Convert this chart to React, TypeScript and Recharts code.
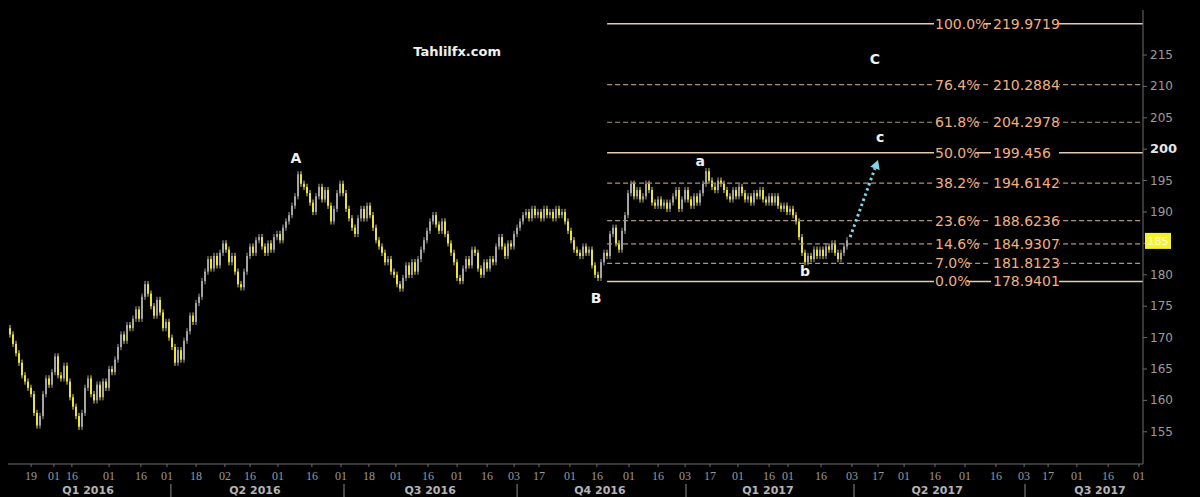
import React from "react";
import {
  ComposedChart,
  Bar,
  Line,
  XAxis,
  YAxis,
  ReferenceLine,
  ReferenceDot
} from "recharts";

// daily closes (one candle per trading day)
const closes: number[] = [
  170.5, 169, 167.5, 166, 164, 163, 162, 161, 158, 156,
  157.5, 161, 163.5, 162.5, 164.5, 167, 164, 163.5, 165.5, 163,
  160.5, 159, 157.5, 155.8, 158, 162, 163.5, 161, 160, 162.5,
  160.5, 163, 162, 165, 164.5, 166.5, 168.5, 170.5, 169.5, 172,
  171.5, 173, 174.5, 173, 176.5, 178.5, 177, 175, 173.5, 176,
  174, 171.5, 172.5, 170, 168.5, 166, 168, 166.5, 169.5, 171,
  173.5, 172.5, 175.5, 176.5, 179, 180.5, 182.5, 181, 183, 181.5,
  183.5, 185, 184, 182, 183, 180.5, 178.5, 178, 180.5, 183,
  184.5, 183.5, 185.5, 186, 184.5, 183.5, 185, 184, 186, 186.5,
  185.5, 187.5, 188.5, 189.5, 191, 192.5, 196, 194.5, 194, 193,
  191.5, 190, 192.5, 194, 192, 193.5, 191, 188.5, 190.5, 193,
  194.5, 193, 190.5, 189, 187.5, 186.5, 189, 190.5, 189, 191,
  189.5, 187.5, 185.5, 184.5, 183.5, 182, 182.5, 180.5, 180, 178.5,
  177.8, 179.5, 181.5, 180, 182, 180.5, 182.5, 184, 185.5, 187,
  188.5, 189.5, 188, 187, 188.5, 186.5, 185, 183.5, 182, 179.5,
  179, 181, 182.5, 181.5, 184, 183.5, 181, 180, 182, 181,
  182.5, 182, 184.5, 186, 184.5, 183, 185, 184.5, 186.5, 187.5,
  188.5, 189.5, 190, 189, 190.5, 189.5, 190, 189, 190.5, 189.5,
  190, 189, 190.5, 189.5, 190, 188.5, 187, 185.5, 184, 183.5,
  183, 184.5, 183.5, 184, 181.5, 180, 179.5, 182, 183.5, 183,
  186.5, 187.5, 185, 184, 187, 189.5, 193, 194.5, 192.5, 193.5,
  192, 192.5, 194.5, 193.5, 191.5, 191, 192, 191, 191.5, 190.5,
  191.5, 192.5, 193.5, 190.5, 192, 193.5, 192, 191, 192.5, 191.5,
  193, 194.5, 196.5, 195, 194, 193.5, 195, 194.5, 193.5, 192.5,
  192, 193.5, 192.5, 194, 193, 192, 192.5, 191.5, 193, 192.5,
  193.5, 192, 191.5, 192.5, 191.5, 192.5, 191, 190.5, 191, 190,
  190.5, 189.5, 188.5, 186, 183.5, 182, 183, 182.5, 184, 183,
  184, 183, 184.5, 184, 185, 183.5, 182.5, 183.5, 184.5, 185.5
];
const firstOpen = 171.5;
const lastPrice = 185.4;
const lastPriceLabel = "185";

// bottom axis: day ticks (slot = trading day position) and quarters
const dayTickSlots = [
  7.7, 15.3, 21.3, 33.7, 44.3, 53, 62.7, 72.3, 80.7, 90,
  101.3, 111, 120.3, 129.3, 140, 149.7, 159.7, 168.7, 177, 187.3,
  196.3, 207, 216.7, 225.7, 234, 243.3, 253.7, 260, 271, 281.3,
  290, 298.7, 309, 319, 329.3, 338.7, 346.7, 356.3, 366.7, 377
];
const dayTickLabels = [
  "19", "01", "16", "01", "16", "01", "18", "02", "16", "01",
  "16", "01", "18", "01", "16", "01", "16", "03", "17", "01",
  "16", "01", "16", "03", "17", "01", "16", "01", "16", "03",
  "17", "01", "16", "01", "16", "03", "17", "01", "16", "01"
];
const quarterLabels = ["Q1 2016", "Q2 2016", "Q3 2016", "Q4 2016", "Q1 2017", "Q2 2017", "Q3 2017"];
const quarterCenters = [26.7, 82.3, 140.7, 197.3, 253.3, 309.7, 364];
const quarterBounds = [54.3, 112, 169.7, 226, 282, 339];
const yTicks = [155, 160, 165, 170, 175, 180, 185, 190, 195, 200, 205, 210, 215];

// fibonacci levels
const fibPercents = ["100.0%", "76.4%", "61.8%", "50.0%", "38.2%", "23.6%", "14.6%", "7.0%", "0.0%"];
const fibValues = [219.9719, 210.2884, 204.2978, 199.456, 194.6142, 188.6236, 184.9307, 181.8123, 178.9401];
const fibSolid = ["100.0%", "50.0%", "0.0%"];
const fibStartSlot = 199.7;
const fibLabelSlot = 309;

// wave annotations
const noteTexts = ["Tahlilfx.com", "A", "B", "a", "b", "C", "c"];
const noteSlots = [149.7, 96, 196, 230.7, 265.7, 289, 290.7];
const noteValues = [215.6, 198.6, 176.3, 198.1, 180.6, 214.4, 201.9];
const arrowFrom = { x: 280.7, y: 186.0 };
const arrowTo = { x: 290, y: 198.3 };

const SLOTS = 378.33;
const Y_MIN = 149.87;
const Y_MAX = 222.17;
const WICK = 0.5;

const candles = closes.map((c, i) => {
  const o = i === 0 ? firstOpen : closes[i - 1];
  const high = Math.max(o, c) + WICK;
  const low = Math.min(o, c) - WICK;
  return { slot: i + 0.5, open: o, close: c, high, low, range: [low, high] };
});

const YELLOW = "#ece332";
const GREY = "#a4a4a4";
const AXIS = "#6e6e6e";

const Candle = (props: any) => {
  const { x, y, width, height, payload } = props;
  if (!payload || height == null) return null;
  const { open, close, high, low } = payload;
  const k = height / (high - low);
  const yo = y + (high - open) * k;
  const yc = y + (high - close) * k;
  const top = Math.min(yo, yc);
  const h = Math.max(Math.abs(yo - yc), 1.5);
  const color = close < open ? YELLOW : GREY;
  const cx = x + width / 2;
  return (
    <g>
      <line x1={cx} x2={cx} y1={y} y2={y + height} stroke={color} strokeWidth={1} />
      <rect x={x} y={top} width={width} height={h} fill={color} />
    </g>
  );
};

const YTick = (p: any) => {
  const v = p.payload.value;
  // the current-price tag covers this label
  if (String(v) === lastPriceLabel) return <g />;
  const strong = v === 200;
  return (
    <text
      x={p.x}
      y={p.y}
      dy={4}
      textAnchor="start"
      fontSize={strong ? 13 : 12}
      fontWeight={strong ? "bold" : "normal"}
      fill={strong ? "#e6e6e6" : "#9c9c9c"}
      fontFamily="DejaVu Sans, sans-serif"
    >
      {v}
    </text>
  );
};

const DayTick = (p: any) => {
  const idx = dayTickSlots.indexOf(p.payload.value);
  return (
    <text
      x={p.x}
      y={p.y}
      dy={11}
      textAnchor="middle"
      fontSize={12}
      fill="#9a9a9a"
      fontFamily="Liberation Serif, serif"
    >
      {dayTickLabels[idx]}
    </text>
  );
};

const QuarterTick = (p: any) => {
  const v = p.payload.value;
  if (quarterBounds.includes(v)) {
    return <line x1={p.x} x2={p.x} y1={p.y + 6} y2={p.y + 19} stroke="#8a8a8a" strokeWidth={1} />;
  }
  return (
    <text
      x={p.x}
      y={p.y + 16}
      textAnchor="middle"
      fontSize={11}
      fontWeight="bold"
      fill="#b4b4b4"
      fontFamily="DejaVu Sans, sans-serif"
    >
      {quarterLabels[quarterCenters.indexOf(v)]}
    </text>
  );
};

const FibLabel = ({ cx, cy, pct, val }: any) => (
  <g>
    <rect x={cx - 1} y={cy - 8} width={pct.length * 8.3} height={16} fill="#000" />
    <rect x={cx + 56} y={cy - 8} width={68} height={16} fill="#000" />
    <text x={cx} y={cy} dy={5} fontSize={14} fill="#f2b07c" fontFamily="DejaVu Sans, sans-serif">
      {pct}
    </text>
    <text x={cx + 58} y={cy} dy={5} fontSize={14} fill="#f2b07c" fontFamily="DejaVu Sans, sans-serif">
      {val}
    </text>
  </g>
);

const Note = ({ cx, cy, text }: any) => (
  <text
    x={cx}
    y={cy}
    dy={5}
    textAnchor="middle"
    fontSize={text.length > 1 ? 13 : 14}
    fontWeight="bold"
    fill="#f0f0f0"
    fontFamily="DejaVu Sans, sans-serif"
  >
    {text}
  </text>
);

const Arrow = (props: any) => {
  const { x1, y1, x2, y2 } = props;
  const dx = x2 - x1;
  const dy = y2 - y1;
  const len = Math.sqrt(dx * dx + dy * dy);
  const ux = dx / len;
  const uy = dy / len;
  const bx = x2 - ux * 9;
  const by = y2 - uy * 9;
  return (
    <g>
      <line x1={x1} y1={y1} x2={bx} y2={by} stroke="#7fd6e6" strokeWidth={3} strokeDasharray="2.5 3" />
      <polygon
        points={`${x2},${y2} ${bx - uy * 5},${by + ux * 5} ${bx + uy * 5},${by - ux * 5}`}
        fill="#7fd6e6"
      />
    </g>
  );
};

const PriceTag = ({ cx, cy }: any) => (
  <g>
    <rect x={cx + 2} y={cy - 8} width={26} height={16} fill="#f6f32e" />
    <text x={cx + 15} y={cy} dy={4} textAnchor="middle" fontSize={11} fill="#fbfad0" fontFamily="DejaVu Sans, sans-serif">
      {lastPriceLabel}
    </text>
  </g>
);

export default function App() {
  return (
    <div style={{ position: "absolute", left: 0, top: 0, width: 1200, height: 497, background: "#000", overflow: "hidden" }}>
      <ComposedChart
        width={1200}
        height={497}
        data={candles}
        margin={{ top: 10, right: 0, bottom: 0, left: 8 }}
      >
        <XAxis
          type="number"
          dataKey="slot"
          domain={[0, SLOTS]}
          ticks={dayTickSlots}
          interval={0}
          height={14}
          tickSize={3}
          tickMargin={2}
          stroke={AXIS}
          tick={<DayTick />}
          allowDataOverflow
        />
        <XAxis
          xAxisId="q"
          type="number"
          dataKey="slot"
          domain={[0, SLOTS]}
          ticks={[...quarterBounds, ...quarterCenters]}
          interval={0}
          height={19}
          tickSize={0}
          tickMargin={0}
          axisLine={false}
          tickLine={false}
          tick={<QuarterTick />}
          allowDataOverflow
        />
        <YAxis
          orientation="right"
          type="number"
          domain={[Y_MIN, Y_MAX]}
          ticks={yTicks}
          interval={0}
          width={57}
          tickSize={4}
          tickMargin={3}
          stroke={AXIS}
          tick={<YTick />}
          allowDataOverflow
        />
        {fibValues.map((v, i) => (
          <ReferenceLine
            key={fibPercents[i]}
            segment={[{ x: fibStartSlot, y: v }, { x: SLOTS, y: v }]}
            stroke={fibSolid.includes(fibPercents[i]) ? "#e2cab4" : "#ad9482"}
            strokeWidth={fibSolid.includes(fibPercents[i]) ? 1.5 : 1.2}
            strokeDasharray={fibSolid.includes(fibPercents[i]) ? undefined : "5 3"}
            ifOverflow="visible"
          />
        ))}
        <Bar
          dataKey="range"
          barSize={2}
          isAnimationActive={false}
          shape={(p: any) => <Candle {...p} />}
        />
        <Line
          xAxisId="q"
          dataKey="close"
          stroke="none"
          dot={false}
          activeDot={false}
          legendType="none"
          isAnimationActive={false}
        />
        {fibValues.map((v, i) => (
          <ReferenceDot
            key={"lbl" + fibPercents[i]}
            x={fibLabelSlot}
            y={v}
            ifOverflow="visible"
            shape={(p: any) => <FibLabel cx={p.cx} cy={p.cy} pct={fibPercents[i]} val={fibValues[i]} />}
          />
        ))}
        {noteTexts.map((t, i) => (
          <ReferenceDot
            key={"note" + i}
            x={noteSlots[i]}
            y={noteValues[i]}
            ifOverflow="visible"
            shape={(p: any) => <Note cx={p.cx} cy={p.cy} text={t} />}
          />
        ))}
        <ReferenceLine
          segment={[arrowFrom, arrowTo]}
          ifOverflow="visible"
          shape={(p: any) => <Arrow {...p} />}
        />
        <ReferenceDot
          x={SLOTS}
          y={lastPrice}
          ifOverflow="visible"
          shape={(p: any) => <PriceTag cx={p.cx} cy={p.cy} />}
        />
      </ComposedChart>
    </div>
  );
}
